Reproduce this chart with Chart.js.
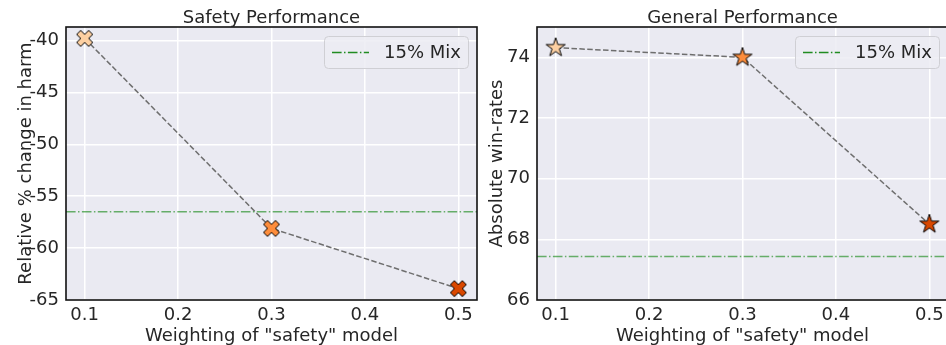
<!DOCTYPE html>
<html><head><meta charset="utf-8">
<script src="https://cdn.jsdelivr.net/npm/chart.js@4.4.1/dist/chart.umd.min.js"></script>
<style>
html,body{margin:0;padding:0;background:#fff;overflow:hidden;width:946px;height:345px;}
#c1{position:absolute;left:0;top:0;}
#c2{position:absolute;left:471px;top:0;}
</style></head><body>
<canvas id="c1" width="480" height="345"></canvas>
<canvas id="c2" width="480" height="345"></canvas>
<script>
// ---- data ----
const weights = [0.1, 0.3, 0.5];
const harmChange = [-39.8, -58.1, -63.9];
const harmMix = -56.5;
const winRates = [74.32, 74.0, 68.5];
const winMix = 67.43;
const xTicks = [0.1, 0.2, 0.3, 0.4, 0.5];
const harmTicks = [-65, -60, -55, -50, -45, -40];
const winTicks = [66, 68, 70, 72, 74];
const mixLabel = '15% Mix';
const markerColors = ['#fdd0a2', '#fd8d3c', '#d94801'];

const X_MIN = 0.08, X_MAX = 0.52;
const FONT = 'DejaVu Sans';
const TXT = '#262626';
Chart.defaults.font.family = FONT;

function makeX(color, size) {
  const s = size + 4;
  const c = document.createElement('canvas'); c.width = s; c.height = s;
  const g = c.getContext('2d');
  const pts = [[0.25,0],[0.5,0.25],[0.25,0.5],[0,0.25],[-0.25,0.5],[-0.5,0.25],[-0.25,0],[-0.5,-0.25],[-0.25,-0.5],[0,-0.25],[0.25,-0.5],[0.5,-0.25]];
  g.beginPath();
  pts.forEach((p,i)=>{const x=s/2+p[0]*size, y=s/2+p[1]*size; i?g.lineTo(x,y):g.moveTo(x,y);});
  g.closePath(); g.fillStyle=color; g.fill(); g.lineWidth=1; g.strokeStyle='#000'; g.stroke();
  return c;
}
function makeStar(color, size) {
  const s = size + 4;
  const c = document.createElement('canvas'); c.width = s; c.height = s;
  const g = c.getContext('2d');
  const R = size/2, r = R*0.381966;
  g.beginPath();
  for (let i=0;i<10;i++){
    const ang = -Math.PI/2 + i*Math.PI/5, rad = i%2 ? r : R;
    const x = s/2 + rad*Math.cos(ang), y = s/2 + rad*Math.sin(ang);
    i?g.lineTo(x,y):g.moveTo(x,y);
  }
  g.closePath(); g.fillStyle=color; g.fill(); g.lineWidth=1; g.strokeStyle='#000'; g.stroke();
  return c;
}

const deco = {
  id:'deco',
  beforeDraw(chart){
    const a=chart.chartArea, g=chart.ctx;
    g.save(); g.fillStyle='#EAEAF2'; g.fillRect(a.left,a.top,a.width,a.height); g.restore();
  },
  afterDatasetsDraw(chart){
    const a=chart.chartArea, g=chart.ctx;
    g.save(); g.strokeStyle='#111'; g.lineWidth=1.6;
    g.strokeRect(a.left,a.top,a.width,a.height); g.restore();
  },
  afterDraw(chart){
    const a=chart.chartArea, g=chart.ctx;
    g.save();
    g.fillStyle=TXT; g.font='18px "'+FONT+'"'; g.textAlign='center'; g.textBaseline='alphabetic';
    g.fillText(chart.options.plugins.deco.title, (a.left+a.right)/2, 23);
    const w=144,h=32,x=a.right-9-w,y=a.top+9;
    g.beginPath(); g.roundRect(x+0.5,y+0.5,w,h,4);
    g.fillStyle='rgba(236,236,243,0.85)'; g.fill();
    g.strokeStyle='#cfcfd4'; g.lineWidth=1; g.stroke();
    g.beginPath(); g.setLineDash([9.6,2.4,1.5,2.4]); g.strokeStyle='rgba(10,130,10,0.9)'; g.lineWidth=1.5;
    g.moveTo(x+8,y+h/2+0.5); g.lineTo(x+45,y+h/2+0.5); g.stroke();
    g.setLineDash([]);
    g.fillStyle=TXT; g.textBaseline='middle'; g.textAlign='left';
    g.fillText(mixLabel, x+60, y+h/2+1);
    g.restore();
  }
};

function xScale(){
  return {
    type:'linear', min:X_MIN, max:X_MAX,
    afterBuildTicks:s=>{s.ticks=xTicks.map(v=>({value:v}));},
    afterFit:s=>{s.height=45; s.paddingLeft=0; s.paddingRight=0;},
    grid:{color:'#ffffff', lineWidth:1.5, drawTicks:false},
    border:{display:false},
    ticks:{padding:5, color:TXT, font:{size:18}, maxRotation:0, autoSkip:false, callback:v=>Number(v).toFixed(1)},
    title:{display:true, text:'Weighting of "safety" model', color:TXT, font:{size:18}, padding:{top:0,bottom:-2}}
  };
}
function yScale(min,max,ticks,label){
  return {
    type:'linear', min:min, max:max,
    afterBuildTicks:s=>{s.ticks=ticks.map(v=>({value:v}));},
    afterFit:s=>{s.width=66; s.paddingTop=0; s.paddingBottom=0;},
    grid:{color:'#ffffff', lineWidth:1.5, drawTicks:false},
    border:{display:false},
    ticks:{padding:7, color:TXT, font:{size:18}, autoSkip:false, callback:v=>String(v)},
    title:{display:true, text:label, color:TXT, font:{size:18}, padding:{top:16,bottom:0}}
  };
}

function build(id, title, vals, mix, yMin, yMax, yTicks, yLabel, maker, msize){
  const pts = weights.map((w,i)=>({x:w,y:vals[i]}));
  const imgs = markerColors.map(c=>maker(c,msize));
  new Chart(document.getElementById(id), {
    type:'scatter',
    data:{datasets:[
      {data:[{x:X_MIN,y:mix},{x:X_MAX,y:mix}], showLine:true, borderColor:'rgba(20,135,20,0.62)', borderWidth:1.5,
       borderDash:[9.6,2.4,1.5,2.4], pointRadius:0, pointHoverRadius:0, fill:false},
      {data:pts, showLine:true, borderColor:'#6e6e6e', borderWidth:1.5, borderDash:[5.5,2.4],
       pointStyle:ctx=>imgs[ctx.dataIndex], pointRadius:10, clip:false, fill:false}
    ]},
    options:{
      responsive:false, animation:false, devicePixelRatio:1,
      layout:{autoPadding:false, padding:{right:3,left:0,top:27,bottom:0}},
      plugins:{legend:{display:false}, tooltip:{enabled:false}, title:{display:false}, deco:{title:title}},
      scales:{x:xScale(), y:yScale(yMin,yMax,yTicks,yLabel)}
    },
    plugins:[deco]
  });
}

build('c1','Safety Performance',harmChange,harmMix,-65,-38.7,harmTicks,'Relative % change in harm',makeX,16);
build('c2','General Performance',winRates,winMix,66,75,winTicks,'Absolute win-rates',makeStar,20);
</script>
</body></html>
